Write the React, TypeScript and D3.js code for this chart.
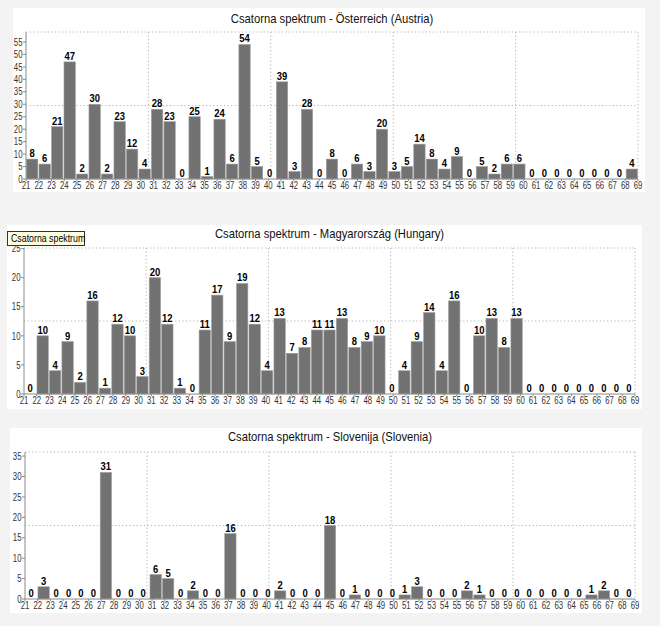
import React from "react";
import * as d3 from "d3";

const channels = ["21","22","23","24","25","26","27","28","29","30","31","32","33","34","35","36","37","38","39","40","41","42","43","44","45","46","47","48","49","50","51","52","53","54","55","56","57","58","59","60","61","62","63","64","65","66","67","68","69"];

const austriaValues = [8,6,21,47,2,30,2,23,12,4,28,23,0,25,1,24,6,54,5,0,39,3,28,0,8,0,6,3,20,3,5,14,8,4,9,0,5,2,6,6,0,0,0,0,0,0,0,0,4];
const hungaryValues = [0,10,4,9,2,16,1,12,10,3,20,12,1,0,11,17,9,19,12,4,13,7,8,11,11,13,8,9,10,0,4,9,14,4,16,0,10,13,8,13,0,0,0,0,0,0,0,0,0];
const sloveniaValues = [0,3,0,0,0,0,31,0,0,0,6,5,0,2,0,0,16,0,0,0,2,0,0,0,18,0,1,0,0,0,1,3,0,0,0,2,1,0,0,0,0,0,0,0,0,1,2,0,0];

const austriaTicks = [0,5,10,15,20,25,30,35,40,45,50,55];
const hungaryTicks = [0,5,10,15,20,25];
const sloveniaTicks = [0,5,10,15,20,25,30,35];

const titles = [
  "Csatorna spektrum - Österreich (Austria)",
  "Csatorna spektrum - Magyarország (Hungary)",
  "Csatorna spektrum - Slovenija (Slovenia)",
];

type Box = { x: number; y: number; w: number; h: number };
type Plot = { l: number; r: number; t: number; b: number };

const FONT = "Liberation Sans, Arial, sans-serif";

function Chart({ title, values, yMax, ticks, panel, plot, titleY }:
  { title: string; values: number[]; yMax: number; ticks: number[]; panel: Box; plot: Plot; titleY: number }) {
  const x = d3.scaleBand<string>().domain(channels).range([plot.l, plot.r]).paddingInner(0.09).paddingOuter(0.04);
  const xl = d3.scalePoint<string>().domain(channels).range([plot.l, plot.r]);
  const y = d3.scaleLinear().domain([0, yMax]).range([plot.b, plot.t]);
  const cols = d3.range(1, 6).map(i => plot.l + (i * (plot.r - plot.l)) / 5);
  const rows = [plot.t, (plot.t + plot.b) / 2];
  const grid = "#b4b4b4";
  return (
    <g>
      <rect x={panel.x} y={panel.y} width={panel.w} height={panel.h} fill="#ffffff" />
      <text transform={`translate(${(plot.l + plot.r) / 2},${titleY}) scale(0.9,1)`} textAnchor="middle"
        fontFamily={FONT} fontSize={12.5} fill="#111">{title}</text>
      {rows.map((ry, i) => (
        <line key={"r" + i} x1={plot.l} x2={plot.r} y1={ry} y2={ry} stroke={grid} strokeDasharray="1.2,2.4" />
      ))}
      {cols.map((cx, i) => (
        <line key={"c" + i} x1={cx} x2={cx} y1={plot.t} y2={plot.b} stroke={grid} strokeDasharray="1.2,2.4" />
      ))}
      {values.map((v, i) => {
        const c = channels[i];
        const bx = x(c)!;
        const bw = x.bandwidth();
        return (
          <g key={c}>
            {v > 0 && (
              <rect x={bx} y={y(v)} width={bw} height={plot.b - y(v)} fill="#727272" stroke="#a0a0a0" strokeWidth={0.6} />
            )}
            <text transform={`translate(${bx + bw / 2},${y(v) - 2}) scale(0.9,1)`} textAnchor="middle"
              fontFamily={FONT} fontWeight="bold" fontSize={10.5} fill="#000">{v}</text>
          </g>
        );
      })}
      <line x1={plot.l} x2={plot.l} y1={plot.t} y2={plot.b} stroke="#8a8a8a" />
      <line x1={plot.l} x2={plot.r} y1={plot.b} y2={plot.b} stroke="#8a8a8a" />
      {ticks.map(t => (
        <g key={"y" + t}>
          <line x1={plot.l - 3} x2={plot.l} y1={y(t)} y2={y(t)} stroke="#8a8a8a" />
          <text transform={`translate(${plot.l - 3.5},${y(t) + 3.7}) scale(0.74,1)`} textAnchor="end"
            fontFamily={FONT} fontSize={10.5} fill="#333">{t}</text>
        </g>
      ))}
      {channels.map(c => (
        <g key={"x" + c}>
          <line x1={xl(c)} x2={xl(c)} y1={plot.b} y2={plot.b + 2} stroke="#8a8a8a" />
          <text transform={`translate(${xl(c)},${plot.b + 10}) scale(0.74,1)`} textAnchor="middle"
            fontFamily={FONT} fontSize={10.5} fill="#333">{c}</text>
        </g>
      ))}
    </g>
  );
}

export default function App() {
  return (
    <svg width={660} height={626} style={{ position: "absolute", left: 0, top: 0, display: "block" }}>
      <rect x={0} y={0} width={660} height={626} fill="#f3f3f3" />
      <Chart title={titles[0]} values={austriaValues} yMax={59} ticks={austriaTicks}
        panel={{ x: 13, y: 8, w: 632, h: 184 }} plot={{ l: 26, r: 638, t: 32, b: 179 }} titleY={23} />
      <Chart title={titles[1]} values={hungaryValues} yMax={25.1} ticks={hungaryTicks}
        panel={{ x: 7, y: 225, w: 635, h: 184 }} plot={{ l: 24, r: 635, t: 248, b: 394 }} titleY={238} />
      <Chart title={titles[2]} values={sloveniaValues} yMax={36} ticks={sloveniaTicks}
        panel={{ x: 10, y: 428, w: 632, h: 185 }} plot={{ l: 25, r: 635, t: 452, b: 599 }} titleY={441} />
      <g>
        <rect x={7.5} y={231.5} width={77} height={14} fill="#ffffe1" stroke="#333" />
        <text transform="translate(11,242) scale(0.88,1)" fontFamily={FONT} fontSize={10} fill="#000">Csatorna spektrum</text>
      </g>
    </svg>
  );
}
